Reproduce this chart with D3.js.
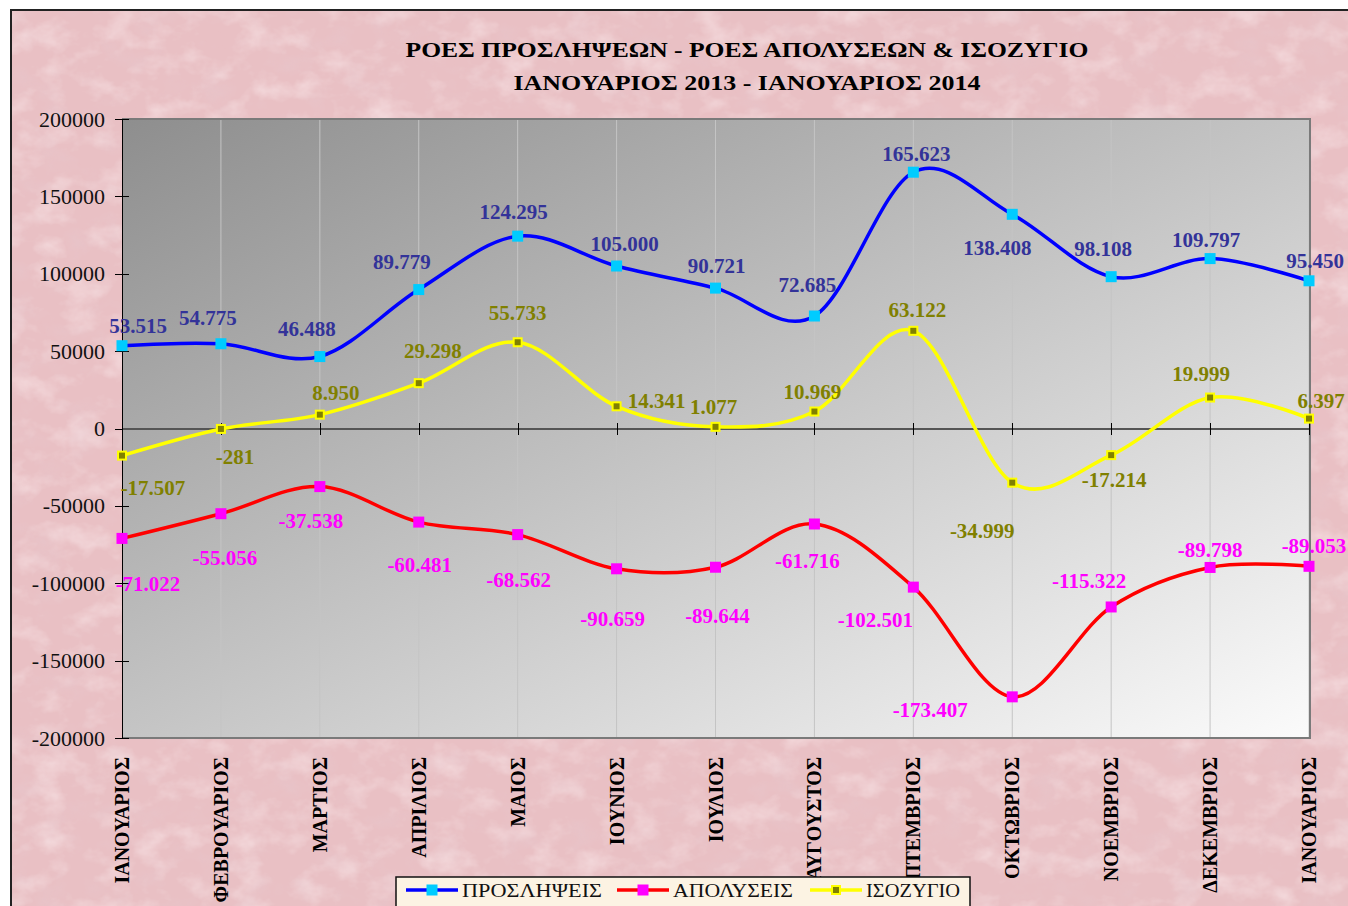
<!DOCTYPE html>
<meta charset="utf-8">
<style>
body { margin: 0; background: #fff; overflow: hidden; }
svg { display: block; }
text { font-family: "Liberation Serif", "DejaVu Serif", serif; }
.axis path, .axis line { shape-rendering: crispEdges; }
</style>
<script src="https://d3js.org/d3.v7.min.js"></script>
<body>
<div id="chart"></div>
<script>
// months (Jan 2013 .. Jan 2014)
var months = ["ΙΑΝΟΥΑΡΙΟΣ", "ΦΕΒΡΟΥΑΡΙΟΣ", "ΜΑΡΤΙΟΣ", "ΑΠΡΙΛΙΟΣ", "ΜΑΙΟΣ", "ΙΟΥΝΙΟΣ",
  "ΙΟΥΛΙΟΣ", "ΑΥΓΟΥΣΤΟΣ", "ΣΕΠΤΕΜΒΡΙΟΣ", "ΟΚΤΩΒΡΙΟΣ", "ΝΟΕΜΒΡΙΟΣ", "ΔΕΚΕΜΒΡΙΟΣ", "ΙΑΝΟΥΑΡΙΟΣ"];

var hires = [53515, 54775, 46488, 89779, 124295, 105000, 90721, 72685, 165623, 138408, 98108, 109797, 95450];
var fires = [-71022, -55056, -37538, -60481, -68562, -90659, -89644, -61716, -102501, -173407, -115322, -89798, -89053];
var balance = [-17507, -281, 8950, 29298, 55733, 14341, 1077, 10969, 63122, -34999, -17214, 19999, 6397];

var yTicks = [-200000, -150000, -100000, -50000, 0, 50000, 100000, 150000, 200000];

// label offsets from the point (centre of text), per series
var hiresLabelOff = [[16,-20],[-13,-26],[-13,-28],[-17,-28],[-4,-25],[8,-22],[1,-22],[-7,-31],[3,-19],[-15,33],[-8,-28],[-4,-19],[6,-20]];
var firesLabelOff = [[26,45],[4,44],[-9,34],[1,43],[1,45],[-4,50],[2,48],[-7,37],[-38,33],[-82,13],[-22,-26],[0,-18],[5,-21]];
var balanceLabelOff = [[31,32],[14,28],[16,-22],[14,-33],[0,-30],[40,-6],[-2,-20],[-2,-20],[4,-21],[-30,48],[3,25],[-9,-24],[12,-18]];

var W = 1348, H = 906;
var plot = {left: 122, top: 119, right: 1310, bottom: 738};

var svg = d3.select("#chart").append("svg")
  .attr("width", W).attr("height", H);

var defs = svg.append("defs");

// mottled pink paper texture
var f = defs.append("filter").attr("id", "marble")
  .attr("x", 0).attr("y", 0).attr("width", "100%").attr("height", "100%");
f.append("feTurbulence").attr("type", "fractalNoise").attr("baseFrequency", "0.03 0.04")
  .attr("numOctaves", 4).attr("seed", 11).attr("result", "n");
f.append("feColorMatrix").attr("in", "n").attr("type", "matrix")
  .attr("values", "0 0 0 0 0.98  0 0 0 0 0.87  0 0 0 0 0.88  1.1 0 0 0 -0.52").attr("result", "light");
f.append("feColorMatrix").attr("in", "n").attr("type", "matrix")
  .attr("values", "0 0 0 0 0.8  0 0 0 0 0.58  0 0 0 0 0.62  0 1.0 0 0 -0.5").attr("result", "dark");
var fm = f.append("feMerge");
fm.append("feMergeNode").attr("in", "light");
fm.append("feMergeNode").attr("in", "dark");

var grad = defs.append("linearGradient").attr("id", "plotbg")
  .attr("x1", 0).attr("y1", 0).attr("x2", 1).attr("y2", 1);
grad.append("stop").attr("offset", "0%").attr("stop-color", "#8e8e8e");
grad.append("stop").attr("offset", "100%").attr("stop-color", "#fbfbfb");

// outer frame
svg.append("rect")
  .attr("x", 11).attr("y", 10).attr("width", W).attr("height", H)
  .attr("fill", "#e9c0c4");
svg.append("rect")
  .attr("x", 11).attr("y", 10).attr("width", W).attr("height", H)
  .attr("fill", "#fff").attr("filter", "url(#marble)");
svg.append("rect")
  .attr("x", 11).attr("y", 10).attr("width", W).attr("height", H)
  .attr("fill", "none").attr("stroke", "#222").attr("stroke-width", 2);

// scales
var x = d3.scalePoint().domain(d3.range(months.length)).range([plot.left, plot.right - 1]);
var y = d3.scaleLinear().domain([-200000, 200000]).range([plot.bottom, plot.top]);

// plot area
svg.append("rect")
  .attr("x", plot.left).attr("y", plot.top)
  .attr("width", plot.right - plot.left).attr("height", plot.bottom - plot.top)
  .attr("fill", "url(#plotbg)");

// vertical gridlines
svg.append("g").selectAll("line")
  .data(d3.range(1, months.length))
  .enter().append("line")
    .attr("x1", function(d) { return x(d); })
    .attr("x2", function(d) { return x(d); })
    .attr("y1", plot.top).attr("y2", plot.bottom)
    .attr("stroke", "#c4c4c4").attr("stroke-width", 1);

// plot border
svg.append("path")
  .attr("d", "M" + plot.left + "," + plot.top + "H" + plot.right + "V" + plot.bottom + "H" + plot.left)
  .attr("fill", "none").attr("stroke", "#7a7a7a").attr("stroke-width", 2);

// y axis
var yAxis = svg.append("g").attr("class", "axis")
  .attr("transform", "translate(" + plot.left + ",0)")
  .call(d3.axisLeft(y).tickValues(yTicks).tickSize(7).tickPadding(10)
    .tickFormat(function(d) { return String(d); }));
yAxis.select(".domain").attr("stroke", "#000").attr("stroke-width", 1.5);
yAxis.selectAll(".tick line").attr("x1", 7).attr("stroke", "#000");
yAxis.selectAll(".tick text")
  .style("font-family", "'Liberation Serif', serif").style("font-size", "22px").attr("fill", "#111");

// zero axis with crossing ticks
var xAxis = svg.append("g").attr("class", "axis")
  .attr("transform", "translate(0," + y(0) + ")")
  .call(d3.axisBottom(x).tickSize(6).tickSizeOuter(0).tickFormat(""));
xAxis.select(".domain").attr("stroke", "#555").attr("stroke-width", 1.5);
xAxis.selectAll(".tick line").attr("y1", -6).attr("stroke", "#000");

// month labels
svg.append("g").selectAll("text")
  .data(months)
  .enter().append("text")
    .attr("transform", function(d, i) { return "translate(" + x(i) + ",757) rotate(-90)"; })
    .attr("text-anchor", "end")
    .attr("dy", "0.35em")
    .style("font-size", "20px").style("font-weight", "bold")
    .attr("fill", "#000")
    .text(function(d) { return d; });

var grLocale = d3.formatLocale({decimal: ",", thousands: ".", grouping: [3], currency: ["", "€"], minus: "-"});
var fmt = grLocale.format(",d");

var line = d3.line()
  .x(function(d, i) { return x(i); })
  .y(function(d) { return y(d); })
  .curve(d3.curveCardinal.tension(0));

var series = [
  {name: "ΠΡΟΣΛΗΨΕΙΣ", values: hires, off: hiresLabelOff, stroke: "#0000ff", mark: "#00ccff", markStroke: "none", size: 11, label: "#333399"},
  {name: "ΑΠΟΛΥΣΕΙΣ", values: fires, off: firesLabelOff, stroke: "#ff0000", mark: "#ff00ff", markStroke: "none", size: 11, label: "#ff00ff"},
  {name: "ΙΣΟΖΥΓΙΟ", values: balance, off: balanceLabelOff, stroke: "#ffff00", mark: "#808000", markStroke: "#ffff00", size: 8, label: "#808000"}
];

series.forEach(function(s) {
  svg.append("path")
    .datum(s.values)
    .attr("fill", "none")
    .attr("stroke", s.stroke)
    .attr("stroke-width", 3.5)
    .attr("stroke-linejoin", "round")
    .attr("d", line);
});

series.forEach(function(s) {
  svg.append("g").selectAll("rect")
    .data(s.values)
    .enter().append("rect")
      .attr("x", function(d, i) { return x(i) - s.size / 2; })
      .attr("y", function(d) { return y(d) - s.size / 2; })
      .attr("width", s.size).attr("height", s.size)
      .attr("fill", s.mark)
      .attr("stroke", s.markStroke).attr("stroke-width", 2);
});

series.forEach(function(s) {
  svg.append("g").selectAll("text")
    .data(s.values)
    .enter().append("text")
      .attr("x", function(d, i) { return x(i) + s.off[i][0]; })
      .attr("y", function(d, i) { return y(d) + s.off[i][1]; })
      .attr("text-anchor", "middle")
      .attr("dy", "0.35em")
      .style("font-size", "21px").style("font-weight", "bold")
      .attr("fill", s.label)
      .text(function(d) { return fmt(d); });
});

// title
svg.append("text")
  .attr("x", 747).attr("y", 50).attr("dy", "0.35em")
  .attr("text-anchor", "middle")
  .style("font-size", "21px").style("font-weight", "bold")
  .attr("textLength", 683).attr("lengthAdjust", "spacingAndGlyphs")
  .text("ΡΟΕΣ ΠΡΟΣΛΗΨΕΩΝ -  ΡΟΕΣ ΑΠΟΛΥΣΕΩΝ  & ΙΣΟΖΥΓΙΟ");
svg.append("text")
  .attr("x", 747).attr("y", 83).attr("dy", "0.35em")
  .attr("text-anchor", "middle")
  .style("font-size", "21px").style("font-weight", "bold")
  .attr("textLength", 467).attr("lengthAdjust", "spacingAndGlyphs")
  .text("ΙΑΝΟΥΑΡΙΟΣ 2013 - ΙΑΝΟΥΑΡΙΟΣ  2014");

// legend
var legend = svg.append("g");
legend.append("rect")
  .attr("x", 396).attr("y", 877).attr("width", 574).attr("height", 40)
  .attr("fill", "#fcf3e3").attr("stroke", "#111").attr("stroke-width", 1.5);
var legX = [406, 617, 810];
var legW = [140, 120, 94];
series.forEach(function(s, i) {
  var g = legend.append("g").attr("transform", "translate(" + legX[i] + ",890)");
  g.append("line").attr("x1", 0).attr("x2", 52).attr("y1", 0).attr("y2", 0)
    .attr("stroke", s.stroke).attr("stroke-width", 3.5);
  g.append("rect")
    .attr("x", 26 - s.size / 2).attr("y", -s.size / 2)
    .attr("width", s.size).attr("height", s.size)
    .attr("fill", s.mark).attr("stroke", s.markStroke).attr("stroke-width", 2);
  g.append("text")
    .attr("x", 56).attr("y", 0).attr("dy", "0.35em")
    .style("font-size", "19px")
    .attr("textLength", legW[i]).attr("lengthAdjust", "spacingAndGlyphs")
    .attr("fill", "#111")
    .text(s.name);
});
</script>
